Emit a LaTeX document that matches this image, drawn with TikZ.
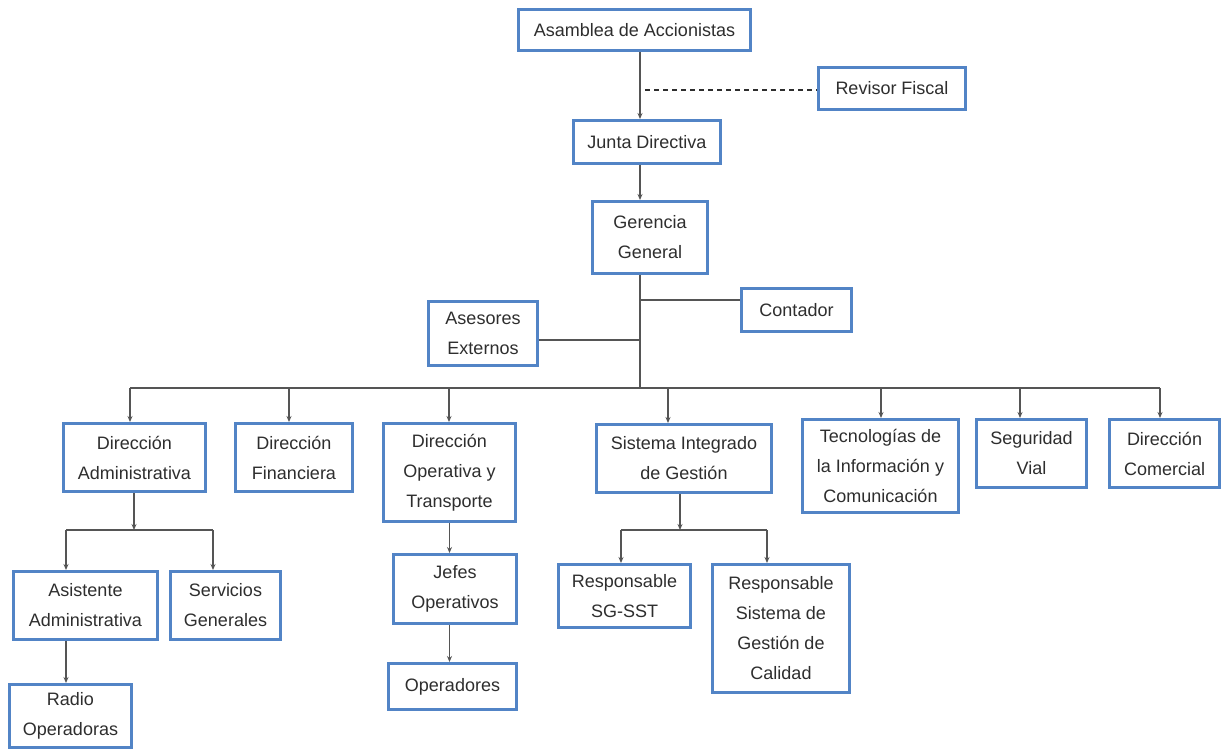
\documentclass[tikz,border=0pt]{standalone}
\usepackage{fontspec}
\setmainfont{Liberation Sans}
\definecolor{BoxBlue}{HTML}{5284C6}
\definecolor{LinkGray}{HTML}{555555}
\definecolor{TextGray}{HTML}{2E2E2E}
\usetikzlibrary{arrows.meta}

\begin{document}
\begin{tikzpicture}[x=1pt, y=-1pt,
    unit/.style={draw=BoxBlue, line width=3pt, fill=white, text=TextGray,
                 font=\fontsize{18}{30}\selectfont, align=center, inner sep=0pt},
    link/.style={LinkGray, line width=1.2pt},
    arr/.style={link, -{Stealth[length=6pt, width=5pt]}}]
  \useasboundingbox (0,0) rectangle (1223,751);
  % Top of the chart
  \node[unit, minimum width=232, minimum height=41] (asamblea) at (634.5,30)  {Asamblea de Accionistas};
  \node[unit, minimum width=147, minimum height=42] (revisor)  at (892,88.5)  {Revisor Fiscal};
  \node[unit, minimum width=147, minimum height=43] (junta)    at (647,142)   {Junta Directiva};
  \node[unit, minimum width=115, minimum height=72] (gerencia) at (650,237.5) {Gerencia\\General};
  \node[unit, minimum width=110, minimum height=43] (contador) at (796.5,310) {Contador};
  \node[unit, minimum width=109, minimum height=64] (asesores) at (483,333.5) {Asesores\\Externos};
  % Direcciones
  \node[unit, minimum width=142, minimum height=68] (diradm)  at (134.5,457.5) {Dirección\\Administrativa};
  \node[unit, minimum width=117, minimum height=68] (dirfin)  at (294,457.5)   {Dirección\\Financiera};
  \node[unit, minimum width=132, minimum height=98] (dirop)   at (449.5,472.5) {Dirección\\Operativa y\\Transporte};
  \node[unit, minimum width=175, minimum height=68] (sig)     at (684,458.5)   {Sistema Integrado\\de Gestión};
  \node[unit, minimum width=156, minimum height=93] (tic)     at (880.5,466)   {Tecnologías de\\la Información y\\Comunicación};
  \node[unit, minimum width=110, minimum height=68] (segvial) at (1031.5,453.5) {Seguridad\\Vial};
  \node[unit, minimum width=110, minimum height=68] (dircom)  at (1164.5,453.5) {Dirección\\Comercial};
  % Lower levels
  \node[unit, minimum width=144, minimum height=68]  (asist)      at (85.5,605.5)  {Asistente\\Administrativa};
  \node[unit, minimum width=110, minimum height=68]  (servgen)    at (225.5,605.5) {Servicios\\Generales};
  \node[unit, minimum width=122, minimum height=63]  (radio)      at (70.5,716)    {Radio\\Operadoras};
  \node[unit, minimum width=123, minimum height=69]  (jefes)      at (455,589)     {Jefes\\Operativos};
  \node[unit, minimum width=128, minimum height=46]  (operadores) at (452.5,686.5) {Operadores};
  \node[unit, minimum width=132, minimum height=63]  (sst)        at (624.5,596)   {Responsable\\SG-SST};
  \node[unit, minimum width=137, minimum height=128] (calidad)    at (781,628.5)   {Responsable\\Sistema de\\Gestión de\\Calidad};
  % Trunk
  \coordinate (trunk) at (640,388);
  \coordinate (jc) at (640,300);
  \coordinate (ja) at (640,340);
  \coordinate (dash) at (645,90);
  \draw[arr] (asamblea.south -| trunk) -- (junta.north -| trunk);
  \draw[TextGray, line width=2.6pt, dash pattern=on 5pt off 4pt] (dash) -- (dash -| revisor.west);
  \draw[arr] (junta.south -| trunk) -- (gerencia.north -| trunk);
  \draw[link] (gerencia.south -| trunk) -- (trunk);
  \draw[link] (jc) -- (jc -| contador.west);
  \draw[link] (ja) -- (ja -| asesores.east);
  % Bus to the direcciones
  \coordinate (b1) at (130,388);
  \coordinate (b2) at (289,388);
  \coordinate (b3) at (449,388);
  \coordinate (b4) at (668,388);
  \coordinate (b5) at (881,388);
  \coordinate (b6) at (1020,388);
  \coordinate (b7) at (1160,388);
  \draw[link] (b1) -- (b7);
  \foreach \b/\n in {b1/diradm, b2/dirfin, b3/dirop, b4/sig, b5/tic, b6/segvial, b7/dircom}
    \draw[arr] (\b) -- (\b |- \n.north);
  % Administrativa
  \coordinate (s1) at (134,530);
  \coordinate (s1L) at (66,530);
  \coordinate (s1R) at (213,530);
  \draw[arr] (diradm.south -| s1) -- (s1);
  \draw[link] (s1L) -- (s1R);
  \draw[arr] (s1L) -- (s1L |- asist.north);
  \draw[arr] (s1R) -- (s1R |- servgen.north);
  \draw[arr] (asist.south -| s1L) -- (s1L |- radio.north);
  % Operativa
  \draw[arr] (dirop.south) -- (dirop.south |- jefes.north);
  \draw[arr] (jefes.south -| dirop.south) -- (dirop.south |- operadores.north);
  % Sistema integrado
  \coordinate (s2) at (680,530);
  \coordinate (s2L) at (621,530);
  \coordinate (s2R) at (767,530);
  \draw[arr] (sig.south -| s2) -- (s2);
  \draw[link] (s2L) -- (s2R);
  \draw[arr] (s2L) -- (s2L |- sst.north);
  \draw[arr] (s2R) -- (s2R |- calidad.north);
\end{tikzpicture}
\end{document}
